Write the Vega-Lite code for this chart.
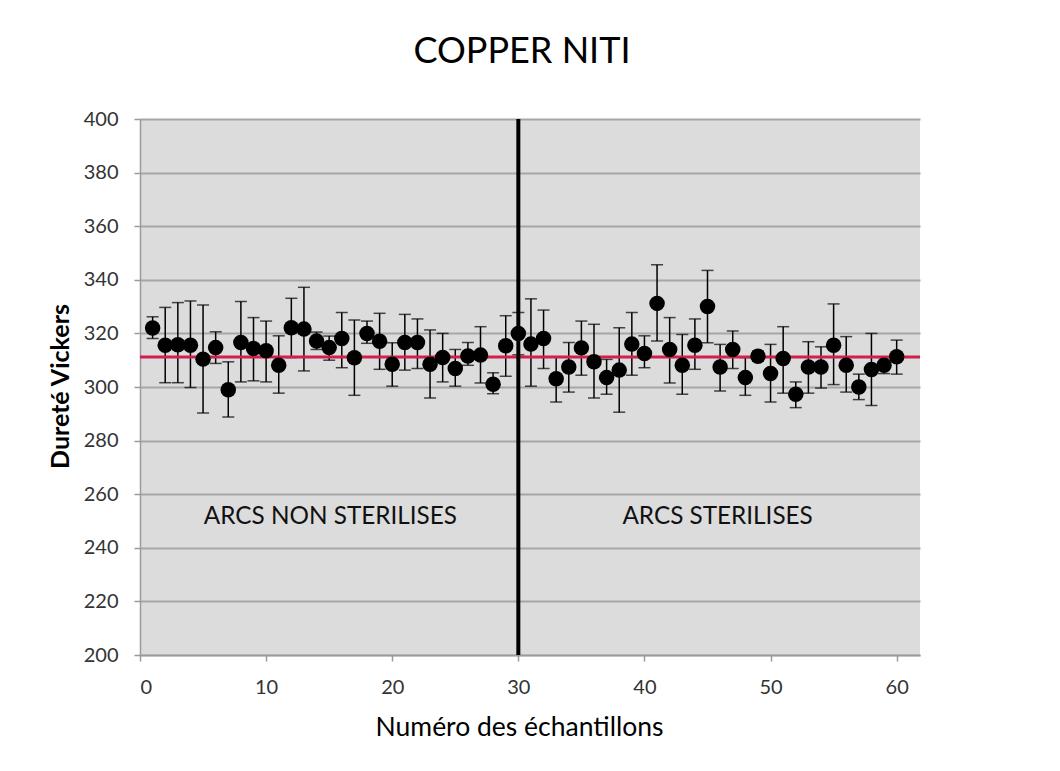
{
  "$schema": "https://vega.github.io/schema/vega-lite/v6.json",
  "width": 780,
  "height": 536,
  "autosize": {"type": "none"},
  "padding": {"left": 140, "top": 119, "right": 140, "bottom": 116},
  "background": "white",
  "title": {"text": "COPPER NITI", "font": "Lato", "fontSize": 36, "fontWeight": "normal", "color": "#000000", "offset": 38, "dx": -8},
  "config": {
    "view": {"fill": "#dcdcdc", "stroke": null},
    "axis": {"labelFont": "Lato", "titleFont": "Lato", "labelColor": "#333333", "titleColor": "#000000", "domainColor": "#9a9a9a", "tickColor": "#9a9a9a", "domainWidth": 1.5, "tickWidth": 1.5, "tickSize": 6, "labelFontSize": 20}
  },
  "datasets": {
    "pts": [
      {"n": 1, "v": 322, "hi": 326.2, "lo": 318.1},
      {"n": 2, "v": 315.6, "hi": 329.7, "lo": 301.6},
      {"n": 3, "v": 315.8, "hi": 331.5, "lo": 301.6},
      {"n": 4, "v": 315.6, "hi": 332.1, "lo": 299.8},
      {"n": 5, "v": 310.4, "hi": 330.6, "lo": 290.3},
      {"n": 6, "v": 314.7, "hi": 320.6, "lo": 308.8},
      {"n": 7, "v": 299, "hi": 309.4, "lo": 288.8},
      {"n": 8, "v": 316.6, "hi": 331.9, "lo": 301.9},
      {"n": 9, "v": 314.4, "hi": 325.9, "lo": 302.3},
      {"n": 10, "v": 313.5, "hi": 324.6, "lo": 301.9},
      {"n": 11, "v": 308.1, "hi": 319.1, "lo": 297.7},
      {"n": 12, "v": 322.1, "hi": 333.1, "lo": 311},
      {"n": 13, "v": 321.6, "hi": 337.2, "lo": 306},
      {"n": 14, "v": 317.2, "hi": 320.5, "lo": 314},
      {"n": 15, "v": 314.7, "hi": 319, "lo": 310},
      {"n": 16, "v": 318.1, "hi": 327.8, "lo": 307.2},
      {"n": 17, "v": 310.9, "hi": 325, "lo": 296.9},
      {"n": 18, "v": 320, "hi": 324.6, "lo": 316.3},
      {"n": 19, "v": 317.1, "hi": 327.5, "lo": 306.6},
      {"n": 20, "v": 308.5, "hi": 316.5, "lo": 300.3},
      {"n": 21, "v": 316.6, "hi": 327.1, "lo": 306.3},
      {"n": 22, "v": 316.6, "hi": 325.4, "lo": 306.9},
      {"n": 23, "v": 308.5, "hi": 321.3, "lo": 295.9},
      {"n": 24, "v": 311, "hi": 320, "lo": 301.9},
      {"n": 25, "v": 306.9, "hi": 314, "lo": 300.3},
      {"n": 26, "v": 311.6, "hi": 316.6, "lo": 308.1},
      {"n": 27, "v": 311.9, "hi": 322.5, "lo": 301.5},
      {"n": 28, "v": 301, "hi": 305.3, "lo": 297.5},
      {"n": 29, "v": 315.4, "hi": 326.6, "lo": 304},
      {"n": 30, "v": 320, "hi": 327.8, "lo": 312},
      {"n": 31, "v": 316, "hi": 332.9, "lo": 300.3},
      {"n": 32, "v": 318.1, "hi": 328.7, "lo": 306.9},
      {"n": 33, "v": 303.1, "hi": 311.3, "lo": 294.4},
      {"n": 34, "v": 307.5, "hi": 316.6, "lo": 298.1},
      {"n": 35, "v": 314.6, "hi": 324.6, "lo": 304.4},
      {"n": 36, "v": 309.4, "hi": 323.4, "lo": 295.9},
      {"n": 37, "v": 303.5, "hi": 310.3, "lo": 297.3},
      {"n": 38, "v": 306.3, "hi": 322.1, "lo": 290.6},
      {"n": 39, "v": 316, "hi": 327.8, "lo": 304.4},
      {"n": 40, "v": 312.5, "hi": 319.1, "lo": 307.2},
      {"n": 41, "v": 331.2, "hi": 345.6, "lo": 317.2},
      {"n": 42, "v": 314, "hi": 325.9, "lo": 301.5},
      {"n": 43, "v": 308.1, "hi": 319.6, "lo": 297.3},
      {"n": 44, "v": 315.6, "hi": 325.4, "lo": 306.6},
      {"n": 45, "v": 330, "hi": 343.5, "lo": 316.5},
      {"n": 46, "v": 307.5, "hi": 315.9, "lo": 298.5},
      {"n": 47, "v": 314, "hi": 320.9, "lo": 306.9},
      {"n": 48, "v": 303.5, "hi": 311, "lo": 296.9},
      {"n": 49, "v": 311.5, "hi": 313.4, "lo": 309.6},
      {"n": 50, "v": 305, "hi": 315.9, "lo": 294.4},
      {"n": 51, "v": 310.6, "hi": 322.5, "lo": 297.7},
      {"n": 52, "v": 297.3, "hi": 301.9, "lo": 292.3},
      {"n": 53, "v": 307.5, "hi": 316.9, "lo": 297.7},
      {"n": 54, "v": 307.5, "hi": 315, "lo": 299.6},
      {"n": 55, "v": 315.6, "hi": 331, "lo": 300.9},
      {"n": 56, "v": 308.1, "hi": 318.8, "lo": 298.1},
      {"n": 57, "v": 300, "hi": 304.8, "lo": 295.3},
      {"n": 58, "v": 306.5, "hi": 320, "lo": 293.1},
      {"n": 59, "v": 308.1, "hi": 311, "lo": 305},
      {"n": 60, "v": 311.3, "hi": 317.5, "lo": 304.8}
    ],
    "labels": [
      {"n": 15.1, "v": 251.5, "t": "ARCS NON STERILISES"},
      {"n": 45.8, "v": 251.5, "t": "ARCS STERILISES"}
    ]
  },
  "layer": [
    {
      "data": {"name": "pts"},
      "mark": {"type": "rule", "color": "#000000", "strokeWidth": 1.5},
      "encoding": {
        "x": {"field": "n", "type": "quantitative", "scale": {"domain": [0, 61.85], "nice": false, "zero": false},
          "axis": {"values": [0, 10, 20, 30, 40, 50, 60], "grid": false, "title": "Numéro des échantillons", "titleFontSize": 26.5, "titleFontWeight": "normal", "titlePadding": 17, "labelPadding": 16, "titleX": 379}},
        "y": {"field": "lo", "type": "quantitative", "scale": {"domain": [200, 400], "nice": false, "zero": false},
          "axis": {"values": [200, 220, 240, 260, 280, 300, 320, 340, 360, 380, 400], "grid": true, "gridColor": "#a6a6a6", "gridWidth": 2, "title": "Dureté Vickers", "titleFontSize": 25, "titleFontWeight": "bold", "titlePadding": 10, "labelPadding": 16, "titleY": 267}},
        "y2": {"field": "hi"}
      }
    },
    {
      "data": {"name": "pts"},
      "mark": {"type": "tick", "orient": "horizontal", "color": "#000000", "size": 12, "thickness": 1.5},
      "encoding": {"x": {"field": "n", "type": "quantitative"}, "y": {"field": "hi", "type": "quantitative"}}
    },
    {
      "data": {"name": "pts"},
      "mark": {"type": "tick", "orient": "horizontal", "color": "#000000", "size": 12, "thickness": 1.5},
      "encoding": {"x": {"field": "n", "type": "quantitative"}, "y": {"field": "lo", "type": "quantitative"}}
    },
    {
      "data": {"values": [{"v": 311.2}]},
      "mark": {"type": "rule", "color": "#d21f4b", "strokeWidth": 3},
      "encoding": {"y": {"field": "v", "type": "quantitative"}}
    },
    {
      "data": {"name": "pts"},
      "mark": {"type": "circle", "color": "#000000", "opacity": 1, "size": 240},
      "encoding": {"x": {"field": "n", "type": "quantitative"}, "y": {"field": "v", "type": "quantitative"}}
    },
    {
      "data": {"values": [{"n": 30}]},
      "mark": {"type": "rule", "color": "#000000", "strokeWidth": 4},
      "encoding": {"x": {"field": "n", "type": "quantitative"}}
    },
    {
      "data": {"name": "labels"},
      "mark": {"type": "text", "font": "Lato", "fontSize": 24.3, "color": "#111111", "align": "center", "baseline": "middle"},
      "encoding": {"x": {"field": "n", "type": "quantitative"}, "y": {"field": "v", "type": "quantitative"}, "text": {"field": "t"}}
    }
  ]
}
